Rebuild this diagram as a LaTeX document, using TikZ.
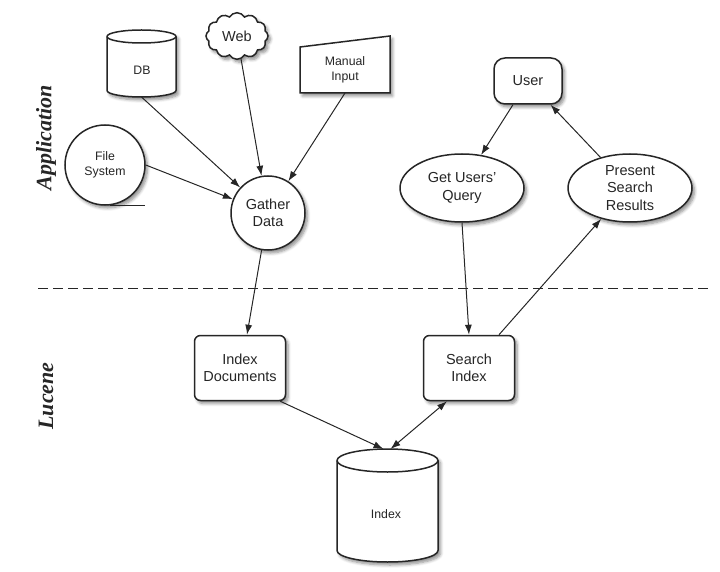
\documentclass[tikz,border=0pt]{standalone}
\usepackage{fontspec}
\setmainfont{Liberation Sans}
\newfontfamily\sideFont{Liberation Serif}
\usetikzlibrary{arrows.meta,shapes.geometric,shapes.symbols,shadows.blur}
\colorlet{lineColor}{black!85}
\colorlet{textColor}{black!85}

\begin{document}
\begin{tikzpicture}[x=1pt,y=-1pt,
shadowed/.style={blur shadow={shadow xshift=2.5pt,shadow yshift=-3pt,
    shadow blur steps=6,shadow blur radius=3pt,shadow opacity=45}},
base/.style={draw=lineColor,line width=1.5pt,fill=white,shadowed,text=textColor,
    align=center,inner sep=0},
outline/.style={draw=lineColor,line width=1.5pt,fill=white,shadowed},
frontLine/.style={draw=lineColor,line width=1.5pt},
bigText/.style={font=\fontsize{14.5}{17.5}\selectfont},
smallText/.style={font=\fontsize{12.3}{14.7}\selectfont},
plainText/.style={text=textColor,align=center,inner sep=0},
holder/.style={inner sep=0,outer sep=0},
procCircle/.style={base,shape=circle},
stepBox/.style={base,rectangle,rounded corners=6pt,minimum width=91pt,
    minimum height=65pt,bigText},
userTask/.style={base,ellipse,minimum width=124pt,minimum height=68pt,bigText},
myTip/.tip={Latex[length=10pt,width=7pt]},
myarrow/.style={-myTip,line width=1pt,draw=lineColor},
sideLabel/.style={rotate=90,text=textColor,
    font=\sideFont\fontsize{22}{26}\selectfont\bfseries\itshape}
]
\useasboundingbox (0,0) rectangle (720,572);
% application side
\node[holder,minimum width=69pt,minimum height=67pt] (db) at (141.5,63.5) {};
\draw[outline] (107,36.5) -- (107,90.5) arc (180:360:34.5pt and 6.5pt)
    -- (176,36.5) arc (0:180:34.5pt and 6.5pt) -- cycle;
\draw[frontLine] (107,36.5) arc (180:360:34.5pt and 6.5pt);
\node[plainText,smallText] (dbText) at (142,70) {DB};
\node[base,shape=cloud,cloud puffs=12,cloud puff arc=120,minimum width=62pt,
    minimum height=38pt,bigText] (web) at (237,36) {Web};
\node[holder,minimum width=90pt,minimum height=46pt] (manual) at (345,70) {};
\draw[outline] (manual.south west) -- (manual.south east)
    -- ([yshift=11pt]manual.north east) -- (manual.north west) -- cycle;
\node[plainText,smallText] (manualText) at (manual) {Manual\\Input};
\node[procCircle,minimum size=80pt,smallText] (fs) at (105,165) {File\\System};
\draw[line width=1pt,draw=lineColor] ([xshift=5pt]fs.south) -- ++(35,0);
\node[procCircle,minimum size=74pt,bigText] (gather) at (268,213) {Gather\\Data};
\node[base,rectangle,rounded corners=11pt,minimum width=68pt,minimum height=46pt,
    bigText] (user) at (528,81) {User};
\node[userTask] (query) at (462,188) {Get Users'\\Query};
\node[userTask] (present) at (630,188) {Present\\Search\\Results};
\node[sideLabel] (app) at (46,138) {Application};
% separator
\draw[dash pattern=on 10pt off 5pt,line width=1pt,draw=lineColor]
    (38,288) coordinate (sepL) -- (712,288) coordinate (sepR);
% lucene side
\node[sideLabel] (lucene) at (46,396) {Lucene};
\node[stepBox] (idxdoc) at (240,368) {Index\\Documents};
\node[stepBox] (search) at (469,368) {Search\\Index};
\node[holder,minimum width=101pt,minimum height=113pt] (index) at (387.5,505.5) {};
\draw[outline] (337,460.5) -- (337,550.5) arc (180:360:50.5pt and 11.5pt)
    -- (438,460.5) arc (0:180:50.5pt and 11.5pt) -- cycle;
\draw[frontLine] (337,460.5) arc (180:360:50.5pt and 11.5pt);
\node[plainText,smallText] (indexText) at (386,514) {Index};
% connectors
\draw[myarrow] (db.south) -- (gather);
\draw[myarrow] (web) -- (gather);
\draw[myarrow] (manual.south) -- (gather);
\draw[myarrow] (fs.east) -- (gather);
\draw[myarrow] (gather) -- ([xshift=7pt]idxdoc.north);
\draw[myarrow] (user) -- (query.60);
\draw[myarrow] (present.134) -- (user);
\draw[myarrow] (query.south) -- (search.north);
\draw[myarrow] ([xshift=30pt]search.north) -- (present.227);
\draw[myarrow] ([xshift=-6pt]idxdoc.south east) -- ([xshift=-4pt]index.north);
\draw[myarrow,myTip-myTip] ([xshift=-22pt]search.south)
    -- ([xshift=3pt]index.north);
\end{tikzpicture}
\end{document}
